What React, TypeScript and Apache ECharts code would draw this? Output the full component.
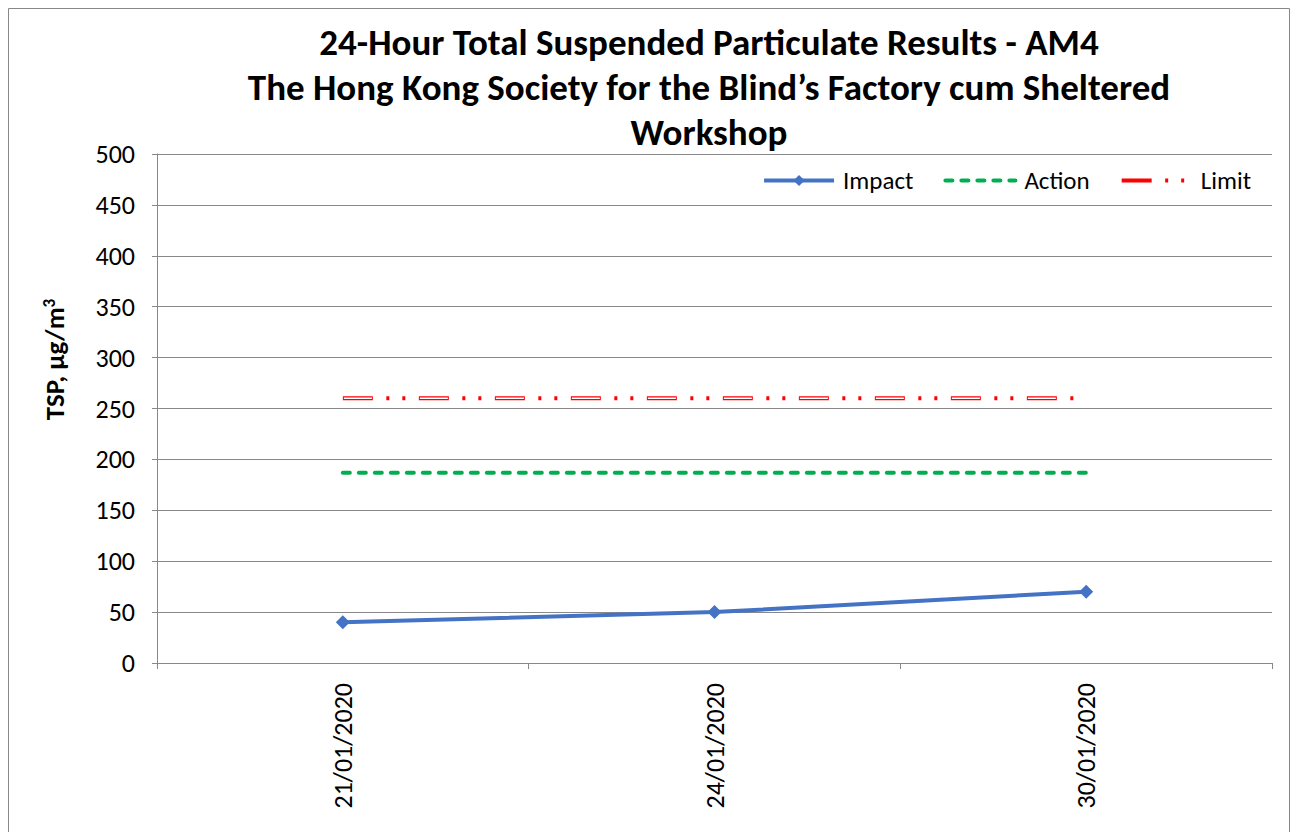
import React, { useEffect, useRef } from "react";
import * as echarts from "echarts";

const categories = ["21/01/2020", "24/01/2020", "30/01/2020"];
const impact = [40, 50, 70];
const action = [187, 187, 187];
const limit = [260, 260, 260];
const titleLines = [
  "24-Hour Total Suspended Particulate Results - AM4",
  "The Hong Kong Society for the Blind’s Factory cum Sheltered",
  "Workshop",
];
const yAxisName = "TSP, μg/m{sup|3}";

const FONT = "Carlito, Calibri, Lato, sans-serif";

export default function App() {
  const ref = useRef<HTMLDivElement>(null);
  useEffect(() => {
    document.body.style.margin = "0";
    const chart = echarts.init(ref.current!, null, { renderer: "svg" });
    chart.setOption({
      animation: false,
      textStyle: { fontFamily: FONT },
      graphic: [
        {
          type: "rect",
          shape: { x: 8.5, y: 8.5, width: 1281, height: 830 },
          style: { fill: "none", stroke: "#888", lineWidth: 1 },
          silent: true,
        },
        {
          type: "text",
          x: 709,
          y: 20,
          style: {
            text: titleLines.join("\n"),
            fontFamily: FONT,
            fontSize: 37,
            fontWeight: "bold",
            lineHeight: 45,
            fill: "#000",
            align: "center",
            verticalAlign: "top",
          },
        },
      ],
      legend: {
        data: [
          { name: "Impact", lineStyle: { width: 4 } },
          { name: "Action", itemStyle: { opacity: 0 }, lineStyle: { width: 4 } },
          { name: "Limit", itemStyle: { opacity: 0 }, lineStyle: { width: 4 } },
        ],
        right: 36,
        top: 163,
        itemWidth: 70,
        itemHeight: 14,
        itemGap: 30,
        textStyle: { fontSize: 25, color: "#000", fontFamily: FONT, padding: [0, 0, 0, 4] },
      },
      grid: { left: 157, right: 20, top: 154, bottom: 169, containLabel: false },
      xAxis: {
        type: "category",
        data: categories,
        boundaryGap: true,
        axisLine: { lineStyle: { color: "#888", width: 1 } },
        axisTick: { show: true, length: 6, lineStyle: { color: "#888" } },
        axisLabel: {
          rotate: 90,
          fontSize: 26,
          color: "#000",
          margin: 20,
          fontFamily: FONT,
        },
      },
      yAxis: {
        type: "value",
        min: 0,
        max: 500,
        interval: 50,
        name: yAxisName,
        nameLocation: "middle",
        nameGap: 89,
        nameRotate: 90,
        nameTextStyle: {
          fontSize: 27,
          fontWeight: "bold",
          color: "#000",
          fontFamily: FONT,
          padding: [0, 0, 0, 98],
          rich: {
            sup: { fontSize: 17, fontWeight: "bold", color: "#000", fontFamily: FONT, verticalAlign: "top", padding: [0, 0, 10, 0] },
          },
        },
        axisLine: { show: true, lineStyle: { color: "#888", width: 1 } },
        axisTick: { show: true, length: 5, lineStyle: { color: "#888" } },
        axisLabel: { fontSize: 26, color: "#000", margin: 22, fontFamily: FONT },
        splitLine: { lineStyle: { color: "#888", width: 1 } },
      },
      series: [
        {
          name: "Impact",
          type: "line",
          data: impact,
          symbol: "diamond",
          symbolSize: 14,
          itemStyle: { color: "#4472C4" },
          lineStyle: { color: "#4472C4", width: 4 },
          z: 5,
        },
        {
          name: "Action",
          type: "line",
          data: action,
          symbol: "none",
          itemStyle: { color: "#00B050" },
          lineStyle: { color: "#00B050", width: 4, type: [7, 9], cap: "round" },
        },
        {
          name: "Limit",
          type: "line",
          data: limit,
          symbol: "none",
          itemStyle: { color: "#FF0000" },
          lineStyle: { color: "#FF0000", width: 4, type: [30, 13.5, 3, 13, 3, 13.5], cap: "butt" },
        },
        {
          name: "LimitInner",
          type: "line",
          data: limit,
          symbol: "none",
          silent: true,
          itemStyle: { color: "#FFFFFF" },
          lineStyle: { color: "#FFFFFF", width: 1.4, type: [28, 48], dashOffset: 75, cap: "butt" },
          z: 3,
        },
      ],
    });
    return () => chart.dispose();
  }, []);
  return <div ref={ref} style={{ width: 1292, height: 832 }} />;
}
